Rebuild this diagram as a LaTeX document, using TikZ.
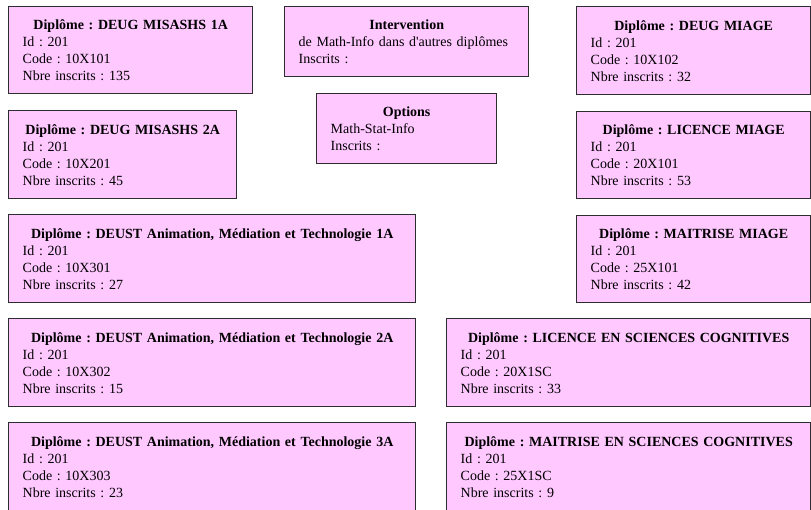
\documentclass[tikz,border=0pt]{standalone}
\usepackage{fontspec}
\setmainfont{Liberation Serif}
\frenchspacing
\definecolor{rose}{RGB}{255,200,255}
\definecolor{bord}{RGB}{45,45,45}
\tikzset{
	boite/.style={draw=bord, line width=1.4pt, fill=rose, anchor=north west, inner xsep=14pt, inner ysep=0pt, minimum height=88pt, align=left, font=\fontsize{14}{17}\selectfont},
}
\newcommand{\fiche}[4]{\makebox[\linewidth]{\textbf{Diplôme : #1}}\\Id : #2\\Code : #3\\Nbre inscrits : #4}
\begin{document}
\begin{tikzpicture}[x=1pt,y=-1pt]
	\useasboundingbox (0,0) rectangle (811,509);
	% Colonne gauche
	\node [boite, text width=216pt, minimum height=87pt] (misashsA) at (8,6) {\fiche{DEUG MISASHS 1A}{201}{10X101}{135}};
	\node [boite, text width=200pt] (misashsB) at (8,110) {\fiche{DEUG MISASHS 2A}{201}{10X201}{45}};
	\node [boite, text width=379pt] (deustA) at (8,214) {\fiche{DEUST Animation, Médiation et Technologie 1A}{201}{10X301}{27}};
	\node [boite, text width=379pt] (deustB) at (8,318) {\fiche{DEUST Animation, Médiation et Technologie 2A}{201}{10X302}{15}};
	\node [boite, text width=379pt] (deustC) at (8,422) {\fiche{DEUST Animation, Médiation et Technologie 3A}{201}{10X303}{23}};
	% Milieu
	\node [boite, text width=216pt, minimum height=70pt] (interv) at (284,6) {\makebox[\linewidth]{\textbf{Intervention}}\\de Math-Info dans d\textquotesingle autres diplômes\\Inscrits :};
	\node [boite, text width=152pt, minimum height=70pt] (options) at (316,93) {\makebox[\linewidth]{\textbf{Options}}\\Math-Stat-Info\\Inscrits :};
	% Colonne droite
	\node [boite, text width=206pt] (miageA) at (576,6) {\fiche{DEUG MIAGE}{201}{10X102}{32}};
	\node [boite, text width=206pt, minimum height=87pt] (miageB) at (576,111) {\fiche{LICENCE MIAGE}{201}{20X101}{53}};
	\node [boite, text width=206pt, minimum height=87pt] (miageC) at (576,215) {\fiche{MAITRISE MIAGE}{201}{25X101}{42}};
	\node [boite, text width=336pt] (cogniA) at (446,318) {\fiche{LICENCE EN SCIENCES COGNITIVES}{201}{20X1SC}{33}};
	\node [boite, text width=336pt] (cogniB) at (446,422) {\fiche{MAITRISE EN SCIENCES COGNITIVES}{201}{25X1SC}{9}};
\end{tikzpicture}
\end{document}
